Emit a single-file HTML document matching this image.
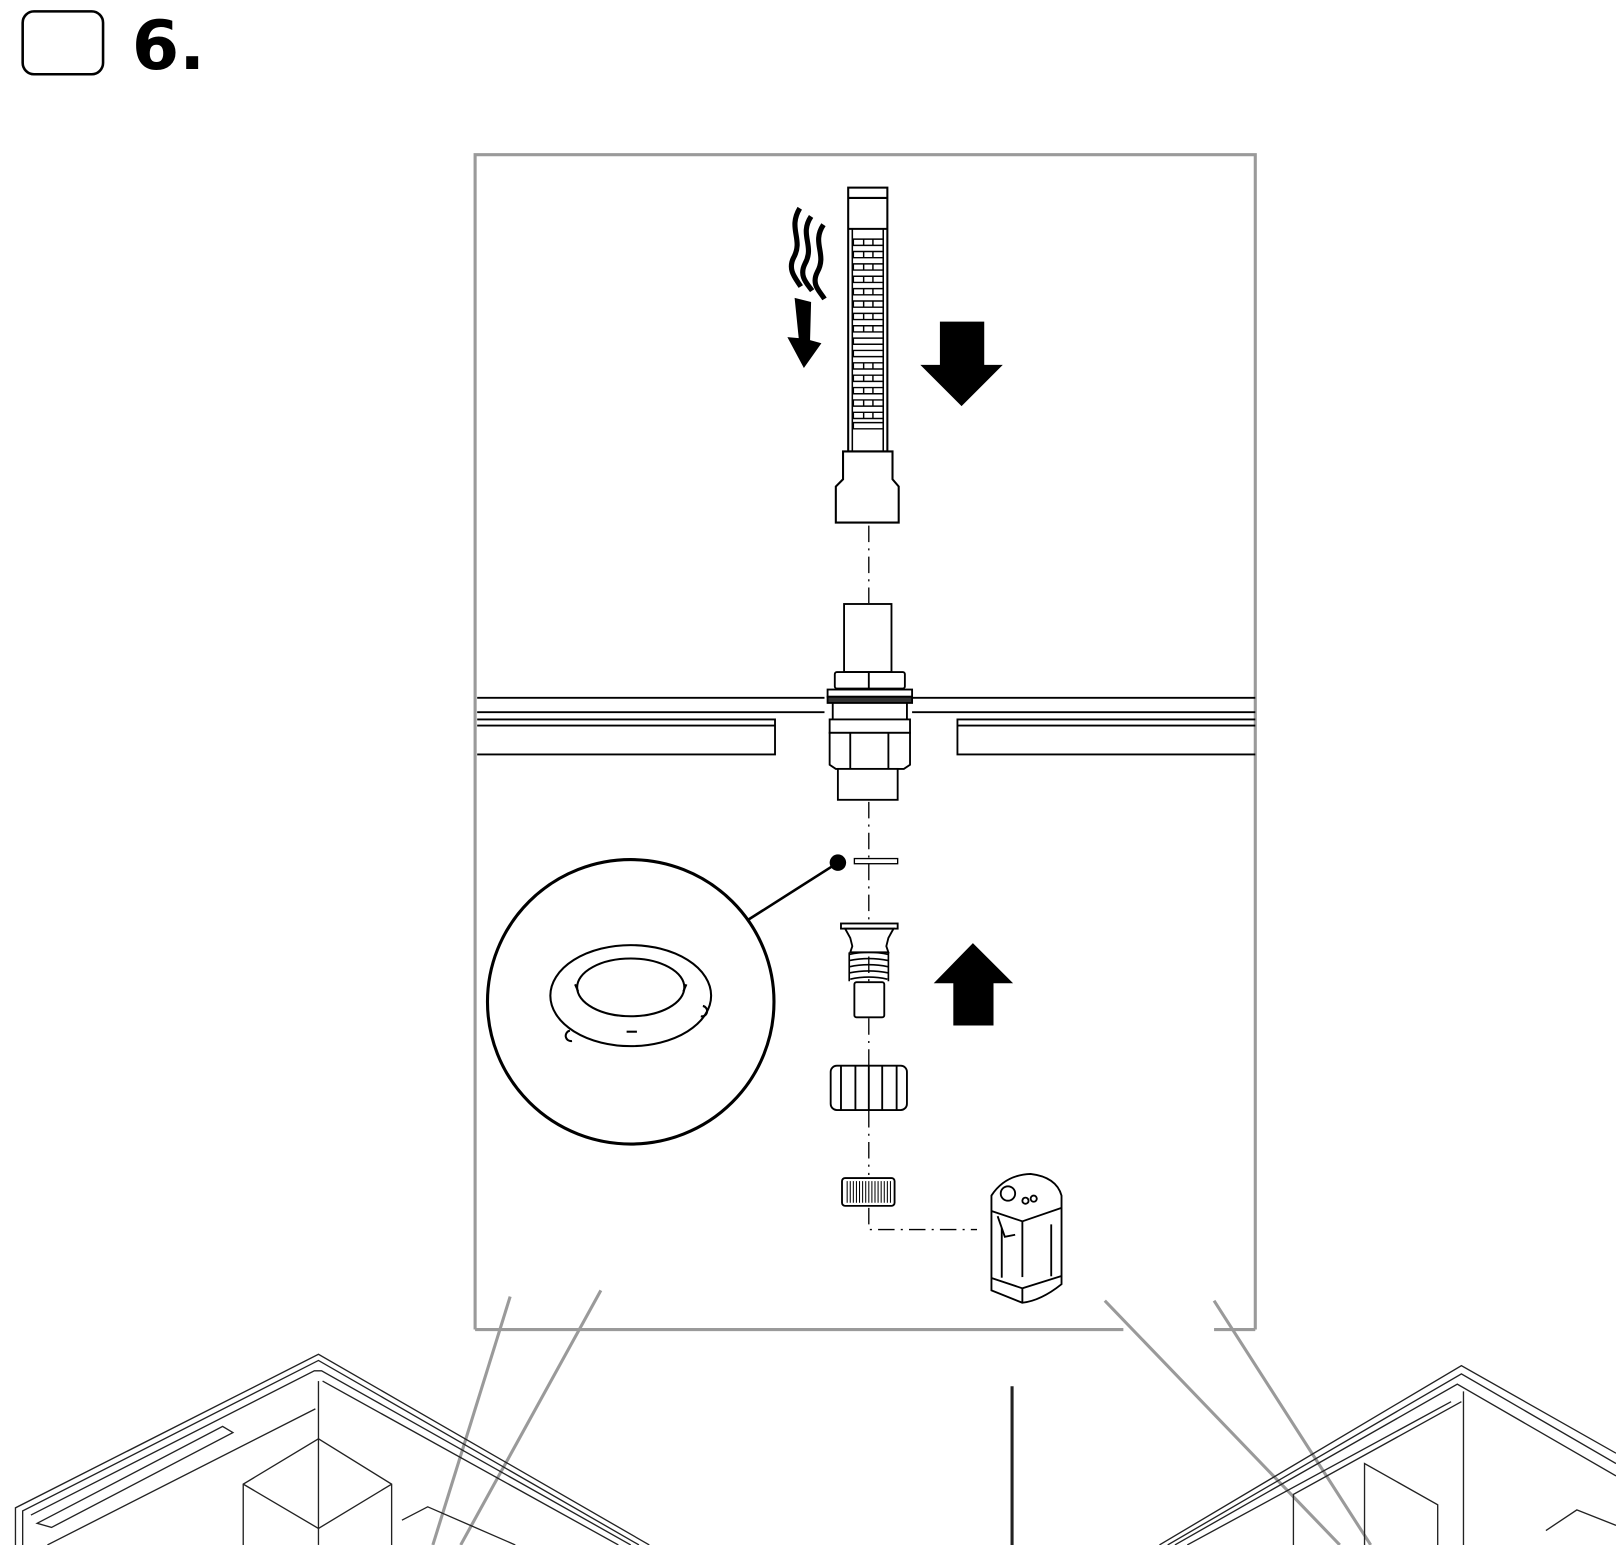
<!DOCTYPE html>
<html><head><meta charset="utf-8"><style>
html,body{margin:0;padding:0;background:#fff;}
svg{display:block;}
</style></head><body>
<svg width="1616" height="1545" viewBox="0 0 1568 1499" xmlns="http://www.w3.org/2000/svg">
<rect width="1568" height="1499" fill="#fff"/>
<rect x="22" y="11" width="78" height="61" rx="11" fill="none" stroke="#000" stroke-width="2.5"/>
<text x="128" y="67" font-family="DejaVu Sans, Liberation Sans, sans-serif" font-weight="bold" font-size="66">6.</text>

<g fill="none" stroke="#9a9a9a" stroke-width="3">
<path d="M461 1290 V150 H1218 V1290"/>
<path d="M461 1290 H1090"/>
<path d="M1178 1290 H1218"/>
<path d="M495 1258 L420 1499"/>
<path d="M583 1252 L447 1499"/>
<path d="M1072 1262 L1300 1499"/>
<path d="M1178 1262 L1330 1499"/>
</g>

<g fill="none" stroke="#222" stroke-width="1.3">
<path d="M15 1499 V1463 L309 1314 L630 1499"/>
<path d="M22 1499 V1466 L309 1320 L620 1499"/>
<path d="M30 1470 L305 1330 L312 1330 L612 1499"/>
<path d="M36 1478 L216 1384 L226 1390 L50 1482 Z"/>
<path d="M46 1499 L306 1367"/>
<path d="M236 1499 V1440 L309 1396 L380 1440 V1499"/>
<path d="M236 1440 L309 1483 L380 1440"/>
<path d="M309 1396 V1499"/>
<path d="M309 1340 V1396"/>
<path d="M313 1340 L600 1499"/>
<path d="M390 1475 L415 1462 L500 1499"/>
<path d="M1125 1499 L1418 1325 L1568 1410"/>
<path d="M1133 1499 L1418 1333 L1568 1420"/>
<path d="M1140 1499 L1414 1343 L1568 1432"/>
<path d="M1152 1499 L1408 1360"/>
<path d="M1420 1350 V1499"/>
<path d="M1255 1499 V1450 L1418 1360"/>
<path d="M1324 1499 V1464 L1324 1420 L1395 1460 L1395 1499"/>
<path d="M1500 1485 L1530 1465 L1568 1480"/>
</g>
<line x1="982" y1="1345" x2="982" y2="1499" stroke="#222" stroke-width="3"/>

<g stroke="#000" stroke-width="1.3" stroke-dasharray="16 6 2 6" fill="none">
<path d="M843 510 V585"/>
<path d="M843 778 V1140"/>
<path d="M843 1172 V1193 H948"/>
</g>

<g fill="#fff" stroke="#000" stroke-width="2">
<rect x="823" y="182" width="38" height="256"/>
<path d="M823 192 H861"/>
<path d="M823 222 H861"/>
<path d="M818 438 H866 V465 L872 472 V507 H811 V472 L818 465 Z"/>
</g>
<g fill="none" stroke="#000" stroke-width="1.5">
<path d="M827 222 V438 M857 222 V438"/>
</g>
<g fill="none" stroke="#000" stroke-width="1.4">
<path d="M828 232h29v6h-29z M828 244h29v6h-29z M828 256h29v6h-29z M828 268h29v6h-29z M828 280h29v6h-29z M828 292h29v6h-29z M828 304h29v6h-29z M828 316h29v6h-29z M828 328h29v6h-29z M828 340h29v6h-29z M828 352h29v6h-29z M828 364h29v6h-29z M828 376h29v6h-29z M828 388h29v6h-29z M828 400h29v6h-29z M828 410h29v6h-29z"/>
<path d="M838 232v6M847 232v6M838 244v6M847 244v6M838 256v6M847 256v6M838 268v6M847 268v6M838 280v6M847 280v6M838 292v6M847 292v6M838 304v6M847 304v6M838 316v6M847 316v6M838 352v6M847 352v6M838 364v6M847 364v6M838 376v6M847 376v6M838 388v6M847 388v6M838 400v6M847 400v6"/>
</g>
<g fill="none" stroke="#000" stroke-width="5">
<path d="M776 202 C764 222,780 232,770 250 C764 262,772 270,777 278"/>
<path d="M787 210 C775 228,791 238,781 256 C775 268,783 275,788 282"/>
<path d="M799 218 C787 236,803 246,793 264 C787 276,795 282,800 290"/>
</g>
<path d="M771 289 L787 293 L786 330 L797 333 L780 357 L764 327 L775 328 Z" fill="#000"/>
<path d="M912 312 H955 V354 H973 L933 394 L893 354 H912 Z" fill="#000"/>

<g fill="none" stroke="#000" stroke-width="1.8">
<path d="M463 677 H800 M885 677 H1218"/>
<path d="M463 691 H800 M885 691 H1218"/>
<path d="M463 698 H752 V732 H463"/>
<path d="M463 704 H752"/>
<path d="M1218 698 H929 V732 H1218"/>
<path d="M929 704 H1218"/>
</g>
<g fill="#fff" stroke="#000" stroke-width="1.8">
<rect x="819" y="586" width="46" height="66"/>
<rect x="810" y="652" width="68" height="16" rx="2"/>
<path d="M843 652 V668"/>
<rect x="803" y="669" width="82" height="7"/>
<rect x="803" y="676" width="82" height="6" fill="#333"/>
<path d="M808 682 V698 M880 682 V698"/>
<rect x="805" y="698" width="78" height="13"/>
<path d="M805 711 H883 V742 L877 746 H811 L805 742 Z"/>
<path d="M825 711 V746 M862 711 V746"/>
<rect x="813" y="746" width="58" height="30"/>
</g>

<rect x="829" y="833" width="42" height="5" fill="#fff" stroke="#000" stroke-width="1.3"/>
<circle cx="813" cy="837" r="8" fill="#000"/>
<line x1="813" y1="837" x2="725" y2="893" stroke="#000" stroke-width="2.5"/>
<ellipse cx="612" cy="972" rx="139" ry="138" fill="none" stroke="#000" stroke-width="3"/>
<g fill="none" stroke="#000" stroke-width="2">
<ellipse cx="612" cy="966" rx="78" ry="49"/>
<ellipse cx="612" cy="958" rx="52" ry="28"/>
<path d="M558 955 L561 962 M666 955 L663 962"/>
<path d="M553 1000 a5 5 0 1 0 2 10 M682 976 a5 5 0 1 1 -2 10"/>
<path d="M608 1001 H618"/>
</g>

<g fill="#fff" stroke="#000" stroke-width="1.8">
<rect x="816" y="896" width="55" height="5"/>
<path d="M820 901 H867 L862 910 L860 918 L862 924 H825 L827 918 L825 910 Z"/>
<rect x="829" y="953" width="29" height="34" rx="2"/>
</g>
<g fill="none" stroke="#000" stroke-width="1.6">
<path d="M824 926 Q843 922 862 926 M824 932 Q843 928 862 932 M824 938 Q843 934 862 938 M824 944 Q843 940 862 944 M825 950 Q843 946 861 950"/>
<path d="M824 924 V952 M862 924 V952"/>
</g>
<path d="M944 915 L983 954 H964 V995 H925 V954 H906 Z" fill="#000"/>

<g fill="#fff" stroke="#000" stroke-width="1.8">
<rect x="806" y="1034" width="74" height="43" rx="6"/>
<path d="M816 1034 V1077 M830 1034 V1077 M856 1034 V1077 M870 1034 V1077 M843 1034 V1077"/>
<rect x="817" y="1143" width="51" height="27" rx="3"/>
</g>
<g stroke="#000" stroke-width="1">
<path d="M822 1146v21M825 1146v21M828 1146v21M831 1146v21M834 1146v21M837 1146v21M840 1146v21M843 1146v21M846 1146v21M849 1146v21M852 1146v21M855 1146v21M858 1146v21M861 1146v21M864 1146v21"/>
</g>

<g fill="#fff" stroke="#000" stroke-width="1.8">
<path d="M962 1160 Q975 1140 1000 1139 Q1025 1142 1030 1160 L1030 1246 Q1010 1262 992 1264 L962 1252 Z"/>
<path d="M962 1175 L992 1185 L1030 1172"/>
<path d="M992 1185 V1264"/>
<path d="M972 1190 V1240 M1020 1188 V1240"/>
<circle cx="978" cy="1158" r="7"/>
<circle cx="995" cy="1165" r="3"/>
<circle cx="1003" cy="1163" r="3"/>
<path d="M968 1180 L975 1200 L985 1198"/>
<path d="M962 1240 L992 1250 L1030 1238"/>
</g>
</svg>
</body></html>
